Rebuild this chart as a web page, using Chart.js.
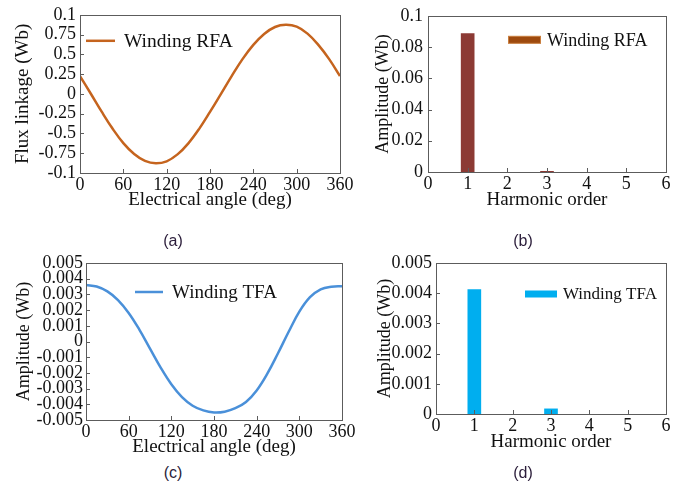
<!DOCTYPE html>
<html><head><meta charset="utf-8">
<script src="https://cdn.jsdelivr.net/npm/chart.js@4.4.0/dist/chart.umd.min.js"></script>
<style>
html,body{margin:0;padding:0;background:#fff;width:685px;height:489px;overflow:hidden;position:relative}
canvas{position:absolute}
.lbl{position:absolute;font-family:"Liberation Sans",Arial,sans-serif;font-size:16px;color:#2b1d3a;transform:translate(-50%,-50%);white-space:nowrap}
</style></head><body>
<canvas id="ca" width="360" height="215" style="left:0;top:0"></canvas>
<canvas id="cb" width="340" height="215" style="left:345px;top:0"></canvas>
<canvas id="cc" width="360" height="215" style="left:0;top:245px"></canvas>
<canvas id="cd" width="340" height="215" style="left:345px;top:245px"></canvas>
<div class="lbl" style="left:173px;top:241px">(a)</div>
<div class="lbl" style="left:523px;top:241px">(b)</div>
<div class="lbl" style="left:173px;top:473px">(c)</div>
<div class="lbl" style="left:523px;top:473px">(d)</div>
<script>
// ---- data ----
const angleDeg = [0,15,30,45,60,75,90,105,120,135,150,165,180,195,210,225,240,255,270,285,300,315,330,345,360];
const fluxRFA = [0.0225,0.0002,-0.0225,-0.0438,-0.0622,-0.0760,-0.0848,-0.0878,-0.0852,-0.0765,-0.0625,-0.0442,-0.0228,-0.0003,0.0225,0.0440,0.0620,0.0758,0.0846,0.0874,0.0850,0.0762,0.0620,0.0440,0.0225];
const fluxTFA = [0.00360,0.00350,0.00319,0.00264,0.00182,0.00076,-0.00045,-0.00166,-0.00272,-0.00354,-0.00409,-0.00439,-0.00452,-0.00447,-0.00425,-0.00385,-0.00312,-0.00205,-0.00075,0.00062,0.00190,0.00282,0.00332,0.00349,0.00352];
const harmonicOrder = [1,2,3,4,5];
const ampRFA = [0.0886,0,0.0004,0,0];
const ampTFA = [0.00412,0,0.00017,0,0];
const yTickLabelsA = ['-0.1','-0.75','-0.5','-0.25','0','0.25','0.5','0.75','0.1'];
const yTickLabelsB = ['0','0.02','0.04','0.06','0.08','0.1'];
const yTickLabelsC = ['-0.005','-0.004','-0.003','-0.002','-0.001','0','0.001','0.002','0.003','0.004','0.005'];
const yTickLabelsD = ['0','0.001','0.002','0.003','0.004','0.005'];
const seriesRFA = 'Winding RFA';
const seriesTFA = 'Winding TFA';

const SERIF = '"Liberation Serif","Times New Roman",serif';

const framePlugin = {
  id: 'frameTicks',
  afterDraw(chart, args, opts) {
    const {ctx, chartArea: a} = chart;
    ctx.save();
    ctx.strokeStyle = '#5c5c5c'; ctx.lineWidth = 1;
    ctx.strokeRect(Math.round(a.left)+0.5, Math.round(a.top)+0.5, Math.round(a.right-a.left), Math.round(a.bottom-a.top));
    const xs = chart.scales.x, ys = chart.scales.y;
    ctx.beginPath();
    xs.ticks.forEach(t => { const px = Math.round(xs.getPixelForValue(t.value))+0.5; ctx.moveTo(px, a.bottom); ctx.lineTo(px, a.bottom-4); });
    ys.ticks.forEach(t => { const py = Math.round(ys.getPixelForValue(t.value))+0.5; ctx.moveTo(a.left, py); ctx.lineTo(a.left+4, py); });
    ctx.stroke();
    const L = opts.legend;
    if (L) {
      const x0 = a.left + L.dx, y0 = a.top + L.dy;
      if (L.kind === 'line') {
        ctx.strokeStyle = L.color; ctx.lineWidth = 2.5;
        ctx.beginPath(); ctx.moveTo(x0, y0); ctx.lineTo(x0 + L.w, y0); ctx.stroke();
      } else {
        ctx.fillStyle = L.color;
        ctx.fillRect(x0, y0 - 3.5, L.w, 7);
        if (L.border) { ctx.strokeStyle = L.border; ctx.lineWidth = 1; ctx.strokeRect(x0+0.5, y0-3.5, L.w-1, 7); }
      }
      ctx.fillStyle = '#111';
      ctx.font = L.size + 'px ' + SERIF;
      ctx.textBaseline = 'middle'; ctx.textAlign = 'left';
      ctx.fillText(chart.data.datasets[0].label, x0 + L.w + L.gap, y0 + 1);
    }
    ctx.restore();
  }
};

function axes(o) {
  return {
    x: {
      type: 'linear', min: o.xmin, max: o.xmax, offset: false,
      grid: {display: false, offset: false, drawTicks: false},
      border: {display: false},
      ticks: {stepSize: o.xstep, font: {family: SERIF, size: 18}, color: '#111', padding: 1, maxRotation: 0, autoSkip: false},
      title: {display: true, text: o.xtitle, font: {family: SERIF, size: 19}, color: '#111', padding: {top: 0, bottom: o.xtpad}},
      afterFit: s => { s.height = o.xh; }
    },
    y: {
      type: 'linear', min: o.ymin, max: o.ymax, beginAtZero: false,
      grid: {display: false, drawTicks: false},
      border: {display: false},
      ticks: {stepSize: o.ystep, font: {family: SERIF, size: 18}, color: '#111', padding: o.ypad, autoSkip: false,
              callback: (v, i) => o.ylabels[i]},
      title: {display: true, text: o.ytitle, font: {family: SERIF, size: o.ytsize}, color: '#111', padding: {top: o.ytpad, bottom: 0}},
      afterFit: s => { s.width = o.yw; }
    }
  };
}

function pts(xs, ys) { return xs.map((x, i) => ({x: x, y: ys[i]})); }
function nonZero(list) { return list.filter(p => p.y !== 0); }

function make(id, type, dataset, pad, ax, legend) {
  return new Chart(document.getElementById(id), {
    type: type,
    data: {datasets: [dataset]},
    options: {
      responsive: false, animation: false, devicePixelRatio: 1,
      layout: {padding: pad},
      plugins: {legend: {display: false}, tooltip: {enabled: false}, frameTicks: {legend: legend}},
      scales: axes(ax)
    },
    plugins: [framePlugin]
  });
}

make('ca', 'line', {label: seriesRFA, data: pts(angleDeg, fluxRFA), borderColor: '#C5641E', borderWidth: 2.5, pointRadius: 0, tension: 0.4, fill: false},
  {top: 14, right: 20, left: 0, bottom: 0},
  {xmin: 0, xmax: 360, xstep: 60, xtitle: 'Electrical angle (deg)', xh: 42, xtpad: 4,
   ymin: -0.1, ymax: 0.1, ystep: 0.025, ylabels: yTickLabelsA, ytitle: 'Flux linkage (Wb)', ytsize: 19, ytpad: 12, yw: 80, ypad: 4},
  {kind: 'line', dx: 6, dy: 26, w: 29, gap: 9, size: 19.5, color: '#C5641E'});

make('cb', 'bar', {label: seriesRFA, data: nonZero(pts(harmonicOrder, ampRFA)), backgroundColor: '#8C3A34', barThickness: 13},
  {top: 15, right: 19, left: 0, bottom: 0},
  {xmin: 0, xmax: 6, xstep: 1, xtitle: 'Harmonic order', xh: 43, xtpad: 4,
   ymin: 0, ymax: 0.1, ystep: 0.02, ylabels: yTickLabelsB, ytitle: 'Amplitude (Wb)', ytsize: 18, ytpad: 27, yw: 83, ypad: 5},
  {kind: 'box', dx: 80, dy: 24, w: 33, gap: 6, size: 18, color: '#9E4A0E', border: '#C97E3E'});

make('cc', 'line', {label: seriesTFA, data: pts(angleDeg, fluxTFA), borderColor: '#4A90D9', borderWidth: 2.5, pointRadius: 0, tension: 0.4, fill: false},
  {top: 18, right: 18, left: 0, bottom: 0},
  {xmin: 0, xmax: 360, xstep: 60, xtitle: 'Electrical angle (deg)', xh: 40, xtpad: 2,
   ymin: -0.005, ymax: 0.005, ystep: 0.001, ylabels: yTickLabelsC, ytitle: 'Amplitude (Wb)', ytsize: 18, ytpad: 13, yw: 86, ypad: 3},
  {kind: 'line', dx: 49, dy: 29, w: 28, gap: 9, size: 19, color: '#4A90D9'});

make('cd', 'bar', {label: seriesTFA, data: nonZero(pts(harmonicOrder, ampTFA)), backgroundColor: '#00AEEF', barThickness: 13},
  {top: 18, right: 19, left: 0, bottom: 0},
  {xmin: 0, xmax: 6, xstep: 1, xtitle: 'Harmonic order', xh: 46, xtpad: 7,
   ymin: 0, ymax: 0.005, ystep: 0.001, ylabels: yTickLabelsD, ytitle: 'Amplitude (Wb)', ytsize: 18, ytpad: 29, yw: 91, ypad: 4},
  {kind: 'box', dx: 89, dy: 31, w: 32, gap: 6, size: 17, color: '#00AEEF'});
</script>
</body></html>
